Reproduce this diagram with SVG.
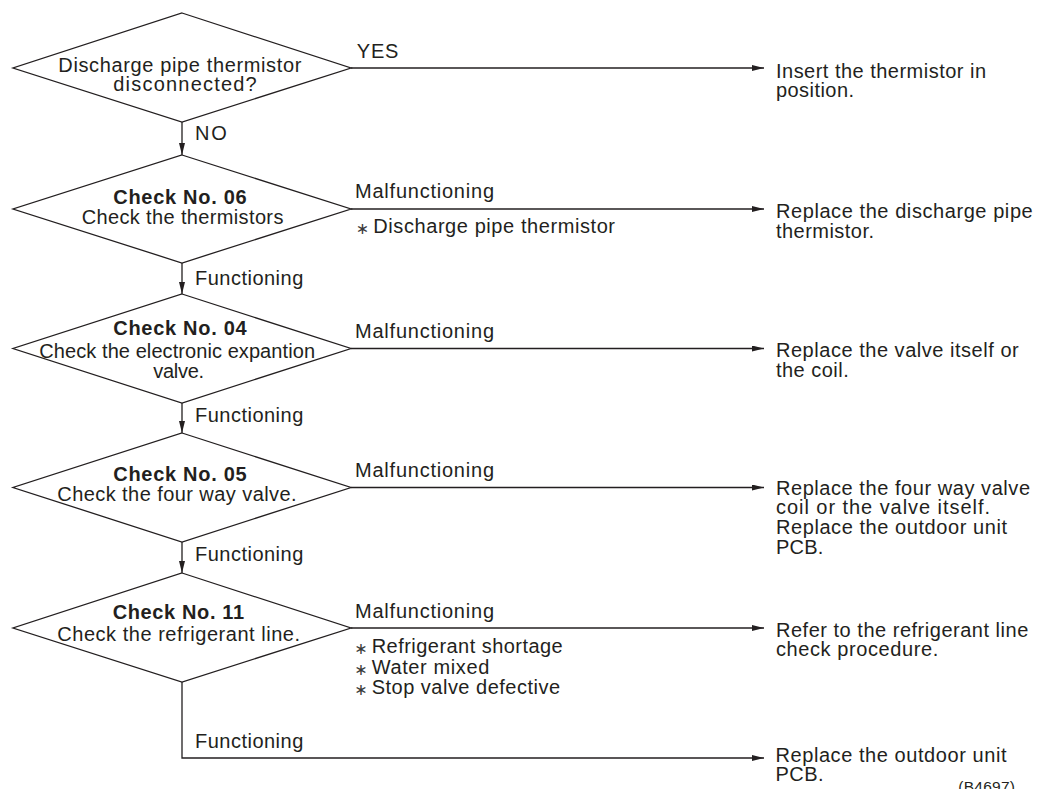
<svg xmlns="http://www.w3.org/2000/svg" width="1044" height="789" viewBox="0 0 1044 789">
<style>
  text { font-family: "Liberation Sans", Arial, sans-serif; font-size: 20px; fill: #231f20; }
  .b { font-weight: bold; }
  .ast { font-family: "DejaVu Sans", sans-serif; font-size: 16px; text-anchor: middle; fill: #3a3a3a; }
  .node { fill: #ffffff; stroke: #231f20; stroke-width: 1.3; }
  .conn { fill: none; stroke: #231f20; stroke-width: 1.3; }
  .code { font-size: 15.5px; }
</style>
<defs>
  <marker id="ah" viewBox="0 0 12 6" refX="12" refY="3" markerWidth="12" markerHeight="6" markerUnits="userSpaceOnUse" orient="auto">
    <path d="M0,0 L12,3 L0,6 z" fill="#231f20"/>
  </marker>
</defs>
<rect width="1044" height="789" fill="#ffffff"/>

<g id="connectors">
  <path class="conn" d="M351,68 L764,68" marker-end="url(#ah)"/>
  <path class="conn" d="M182,122 L182,155" marker-end="url(#ah)"/>
  <path class="conn" d="M351,209 L764,209" marker-end="url(#ah)"/>
  <path class="conn" d="M182,263 L182,294" marker-end="url(#ah)"/>
  <path class="conn" d="M351,348.5 L764,348.5" marker-end="url(#ah)"/>
  <path class="conn" d="M182,403 L182,433" marker-end="url(#ah)"/>
  <path class="conn" d="M351,487.5 L764,487.5" marker-end="url(#ah)"/>
  <path class="conn" d="M182,542 L182,573" marker-end="url(#ah)"/>
  <path class="conn" d="M351,628 L764,628" marker-end="url(#ah)"/>
  <path class="conn" d="M182,682 L182,758 L764,758" marker-end="url(#ah)"/>

  <text x="195" y="140" textLength="31.7">NO</text>
  <text x="195" y="285" textLength="108.3">Functioning</text>
  <text x="195" y="421.7" textLength="108.3">Functioning</text>
  <text x="195" y="560.7" textLength="108.3">Functioning</text>
  <text x="195" y="748.3" textLength="108.3">Functioning</text>

  <text x="356.7" y="58" textLength="41.7">YES</text>
  <text x="355" y="198" textLength="139">Malfunctioning</text>
  <text x="355" y="338" textLength="139">Malfunctioning</text>
  <text x="355" y="477" textLength="139">Malfunctioning</text>
  <text x="355" y="618.3" textLength="139">Malfunctioning</text>

  <text class="ast" x="362.5" y="234">∗</text>
  <text x="373.3" y="233" textLength="241.7">Discharge pipe thermistor</text>
  <text class="ast" x="361" y="654">∗</text>
  <text x="371.7" y="653.3" textLength="191">Refrigerant shortage</text>
  <text class="ast" x="361" y="675">∗</text>
  <text x="371.7" y="674" textLength="117.6">Water mixed</text>
  <text class="ast" x="361" y="695">∗</text>
  <text x="371.7" y="694" textLength="188.3">Stop valve defective</text>
</g>

<g id="q1">
  <polygon class="node" points="182,13 351,68 182,122 13,68"/>
  <text x="58.3" y="71.7" textLength="243">Discharge pipe thermistor</text>
  <text x="113.3" y="91" textLength="143.4">disconnected?</text>
</g>

<g id="check06">
  <polygon class="node" points="182,155 351,209 182,263 13,209"/>
  <text class="b" x="113.3" y="204" textLength="133.3">Check No. 06</text>
  <text x="81.7" y="224.3" textLength="201.7">Check the thermistors</text>
</g>

<g id="check04">
  <polygon class="node" points="182,294 351,348.5 182,403 13,348.5"/>
  <text class="b" x="113.3" y="334.5" textLength="133.3">Check No. 04</text>
  <text x="39.3" y="357.8" textLength="275.7">Check the electronic expantion</text>
  <text x="153.3" y="377.8" textLength="50.7">valve.</text>
</g>

<g id="check05">
  <polygon class="node" points="182,433 351,487.5 182,542 13,487.5"/>
  <text class="b" x="113.3" y="480.7" textLength="133.3">Check No. 05</text>
  <text x="57.3" y="501.2" textLength="239.3">Check the four way valve.</text>
</g>

<g id="check11">
  <polygon class="node" points="182,573 351,628 182,682 13,628"/>
  <text class="b" x="112.7" y="619.3" textLength="131.3">Check No. 11</text>
  <text x="57.3" y="641" textLength="242.7">Check the refrigerant line.</text>
</g>

<g id="r1">
  <text x="776" y="77.5" textLength="210">Insert the thermistor in</text>
  <text x="776" y="96.7" textLength="78">position.</text>
</g>

<g id="r2">
  <text x="776" y="218.3" textLength="256.7">Replace the discharge pipe</text>
  <text x="776" y="237.7" textLength="98">thermistor.</text>
</g>

<g id="r3">
  <text x="776" y="357.3" textLength="242.7">Replace the valve itself or</text>
  <text x="776" y="377.3" textLength="72.7">the coil.</text>
</g>

<g id="r4">
  <text x="776" y="494.7" textLength="254">Replace the four way valve</text>
  <text x="776" y="514" textLength="214">coil or the valve itself.</text>
  <text x="776" y="534" textLength="231">Replace the outdoor unit</text>
  <text x="776" y="553.5" textLength="47.3">PCB.</text>
</g>

<g id="r5">
  <text x="776" y="636.7" textLength="252.3">Refer to the refrigerant line</text>
  <text x="776" y="656" textLength="162.3">check procedure.</text>
</g>

<g id="r6">
  <text x="775.5" y="762.3" textLength="231">Replace the outdoor unit</text>
  <text x="775.5" y="781" textLength="48">PCB.</text>
</g>

<text class="code" x="958.3" y="792" textLength="56.7">(B4697)</text>
</svg>
